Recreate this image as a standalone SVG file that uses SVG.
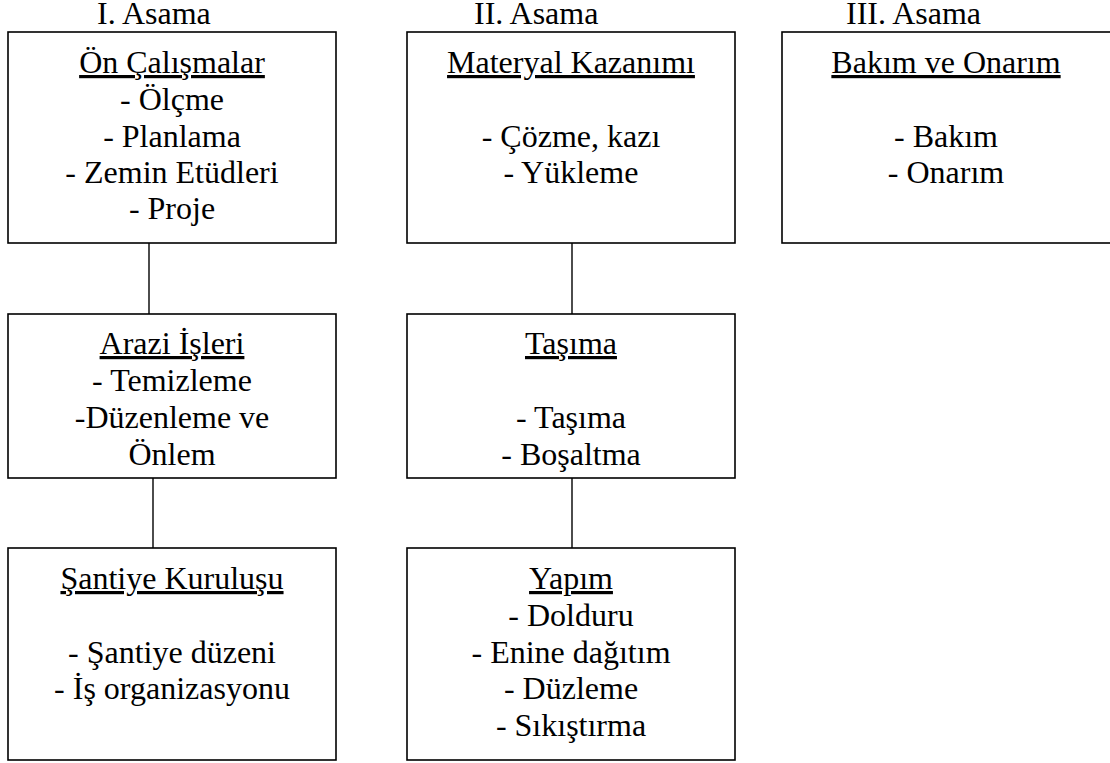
<svg xmlns="http://www.w3.org/2000/svg" width="1110" height="763" viewBox="0 0 1110 763">
<style>
  .box { fill: #ffffff; stroke: #000000; stroke-width: 1.6; }
  text { font-family: 'Liberation Serif', 'Times New Roman', Tinos, 'DejaVu Serif', serif; font-size: 32px; fill: #000000; text-anchor: middle; }
  .u { text-decoration: underline; }
  .conn line { stroke: #000000; stroke-width: 1.4; }
</style>
<rect x="0" y="0" width="1110" height="763" fill="#ffffff"/>

<g id="stage-labels" font-family="Liberation Serif, serif">
  <text x="97" y="24" style="text-anchor:start">I. Asama</text>
  <text x="474" y="24" style="text-anchor:start">II. Asama</text>
  <text x="846" y="24" style="text-anchor:start">III. Asama</text>
</g>

<g id="connectors" class="conn">
  <line x1="149" y1="243" x2="149" y2="314"/>
  <line x1="153" y1="478" x2="153" y2="548"/>
  <line x1="572" y1="243" x2="572" y2="314"/>
  <line x1="572" y1="478" x2="572" y2="548"/>
</g>

<g id="on-calismalar" font-family="Liberation Serif, serif">
  <rect class="box" x="8" y="32" width="328" height="211"/>
  <text class="u" x="172" y="73">Ön Çalışmalar</text>
  <text x="172" y="110">- Ölçme</text>
  <text x="172" y="147">- Planlama</text>
  <text x="172" y="183">- Zemin Etüdleri</text>
  <text x="172" y="219">- Proje</text>
</g>

<g id="materyal-kazanimi" font-family="Liberation Serif, serif">
  <rect class="box" x="407" y="32" width="328" height="211"/>
  <text class="u" x="571" y="73">Materyal Kazanımı</text>
  <text x="571" y="147">- Çözme, kazı</text>
  <text x="571" y="183">- Yükleme</text>
</g>

<g id="bakim-onarim" font-family="Liberation Serif, serif">
  <rect class="box" x="782" y="32" width="340" height="211"/>
  <text class="u" x="946" y="73">Bakım ve Onarım</text>
  <text x="946" y="147">- Bakım</text>
  <text x="946" y="183">- Onarım</text>
</g>

<g id="arazi-isleri" font-family="Liberation Serif, serif">
  <rect class="box" x="8" y="314" width="328" height="164"/>
  <text class="u" x="172" y="354">Arazi İşleri</text>
  <text x="172" y="391">- Temizleme</text>
  <text x="172" y="428">-Düzenleme ve</text>
  <text x="172" y="465">Önlem</text>
</g>

<g id="tasima" font-family="Liberation Serif, serif">
  <rect class="box" x="407" y="314" width="328" height="164"/>
  <text class="u" x="571" y="354">Taşıma</text>
  <text x="571" y="428">- Taşıma</text>
  <text x="571" y="465">- Boşaltma</text>
</g>

<g id="santiye-kurulusu" font-family="Liberation Serif, serif">
  <rect class="box" x="8" y="548" width="328" height="212"/>
  <text class="u" x="172" y="589">Şantiye Kuruluşu</text>
  <text x="172" y="663">- Şantiye düzeni</text>
  <text x="172" y="699">- İş organizasyonu</text>
</g>

<g id="yapim" font-family="Liberation Serif, serif">
  <rect class="box" x="407" y="548" width="328" height="212"/>
  <text class="u" x="571" y="589">Yapım</text>
  <text x="571" y="626">- Dolduru</text>
  <text x="571" y="663">- Enine dağıtım</text>
  <text x="571" y="699">- Düzleme</text>
  <text x="571" y="736">- Sıkıştırma</text>
</g>
</svg>
